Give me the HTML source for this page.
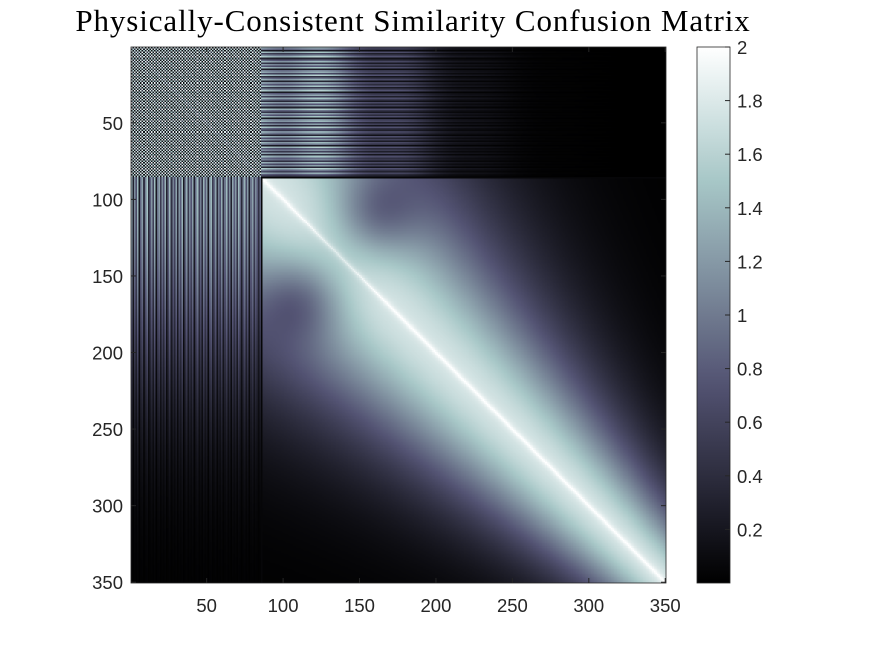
<!DOCTYPE html>
<html><head><meta charset="utf-8"><style>
body{margin:0;background:#fff;width:875px;height:656px;overflow:hidden;position:relative;font-family:"Liberation Sans",sans-serif}
</style></head><body>
<div style="position:absolute;left:13px;width:800px;top:3px;text-align:center;font-family:'Liberation Serif',serif;font-size:31px;letter-spacing:0.9px;color:#000">Physically-Consistent Similarity Confusion Matrix</div>
<canvas id="hm" width="350" height="350" style="position:absolute;left:131px;top:47px;width:535px;height:536px;image-rendering:pixelated"></canvas>
<svg id="ov" width="875" height="656" style="position:absolute;left:0;top:0"></svg>
<script>
// ---- data ----
const colAmp=[1.8,0.4,1.5,0.9,1.9,0.3,1.2,1.7,0.6,1.4,2.0,0.5,1.1,1.6,0.8,1.9,0.3,1.3,1.7,0.7,1.5,1.0,1.8,0.4,1.2,1.9,0.6,1.4,0.9,1.7,0.5,1.6,1.1,1.9,0.3,1.3,1.8,0.7,1.5,1.0,1.7,0.4,1.2,1.9,0.8,1.4,0.6,1.8,1.1,1.6,0.3,1.5,1.9,0.7,1.2,1.7,0.5,1.4,1.0,1.8,0.6,1.3,1.9,0.8,1.5,0.4,1.7,1.1,1.6,0.7,1.9,1.2,0.5,1.4,1.8,0.9,1.6,0.4,1.3,1.7,0.8,1.5,1.1,0.6,1.2];
const rowAmp=[1.6,1.2,0.3,1.8,0.7,1.4,1.9,0.4,1.1,1.7,0.6,1.5,0.9,1.8,0.3,1.3,1.6,0.8,1.9,0.5,1.2,1.7,0.4,1.5,1.0,1.8,0.6,1.4,1.9,0.3,1.1,1.6,0.7,1.8,1.3,0.5,1.7,0.9,1.5,0.4,1.9,1.2,0.6,1.6,1.0,1.8,0.3,1.4,1.7,0.8,1.5,0.5,1.9,1.1,0.7,1.6,1.3,0.4,1.8,0.9,1.5,0.6,1.7,1.2,0.3,1.9,1.0,1.4,0.7,1.6,0.5,1.8,1.1,1.3,0.6,1.7,0.9,1.5,0.4,1.9,1.2,0.8,1.6,1.0,0.5];
const blobs=[[110,160,0.55],[165,112,0.55]]; // [row, col, depth]
const xTicks=[50,100,150,200,250,300,350];
const yTicks=[50,100,150,200,250,300,350];
const cTicks=[0.2,0.4,0.6,0.8,1,1.2,1.4,1.6,1.8,2];
const N=350, B=85, CMIN=0, CMAX=2;
// ---- axes ----
const X0=131,X1=666,Y0=47,Y1=583;
const xs=v=>X0+(v-0.5)*(X1-X0)/N, ys=v=>Y0+(v-0.5)*(Y1-Y0)/N;
const cy=v=>583-(v-CMIN)/(CMAX-CMIN)*(583-47);
function bone(t){t=Math.max(0,Math.min(1,t));
 const hr=Math.min(1,t/0.375),hg=Math.max(0,Math.min(1,(t-0.375)/0.375)),hb=Math.max(0,Math.min(1,(t-0.75)/0.25));
 return [(7*t+hb)/8*255,(7*t+hg)/8*255,(7*t+hr)/8*255];}
function val(i,j){
 if(i<=B&&j<=B){const a=(rowAmp[i-1]+colAmp[j-1])/4;return ((i+j)%2==0)?1.3+0.7*a:0.05+0.4*a*(Math.abs(i-j)%7<2?1:0.3);}
 if(i<=B){const f=Math.exp(-Math.pow((j-B)/95,2));return Math.min(2,rowAmp[i-1]*f*(0.85+0.15*Math.sin(j/9)));}
 if(j<=B){const f=Math.exp(-Math.pow((i-B)/130,2));return Math.min(2,colAmp[j-1]*0.75*f);}
 if(i==B+1||j==B+1)return 0.05;
 const d=Math.abs(i-j),w=40+0.3*(N-Math.min(i,j));
 let v=1.75*Math.exp(-(d/w)*(d/w))+0.3*Math.exp(-d/2.5);
 for(const b of blobs){v-=b[2]*Math.exp(-((i-b[0])**2+(j-b[1])**2)/(2*20*20));}
 return Math.max(0,Math.min(2,v));}
const cv=document.getElementById('hm'),ctx=cv.getContext('2d'),img=ctx.createImageData(N,N);
for(let i=1;i<=N;i++)for(let j=1;j<=N;j++){const c=bone((val(i,j)-CMIN)/(CMAX-CMIN)),k=((i-1)*N+(j-1))*4;
 img.data[k]=c[0];img.data[k+1]=c[1];img.data[k+2]=c[2];img.data[k+3]=255;}
ctx.putImageData(img,0,0);
const ov=document.getElementById('ov'),NS='http://www.w3.org/2000/svg';
function el(tag,at,txt){const e=document.createElementNS(NS,tag);for(const k in at)e.setAttribute(k,at[k]);if(txt!==undefined)e.textContent=txt;ov.appendChild(e);return e;}
const defs=el('defs',{});const lg=document.createElementNS(NS,'linearGradient');lg.setAttribute('id','cg');lg.setAttribute('x1','0');lg.setAttribute('y1','1');lg.setAttribute('x2','0');lg.setAttribute('y2','0');defs.appendChild(lg);
for(let s=0;s<=20;s++){const c=bone(s/20),st=document.createElementNS(NS,'stop');st.setAttribute('offset',s/20);st.setAttribute('stop-color','rgb('+c.map(Math.round).join(',')+')');lg.appendChild(st);}
const cb=el('rect',{x:697,y:47,width:33,height:536,fill:'url(#cg)',stroke:'#262626','stroke-width':0.8});


const ax=el('rect',{x:X0,y:Y0,width:X1-X0,height:Y1-Y0,fill:'none',stroke:'#262626','stroke-width':0.8});


const FS=18.5;
for(const v of xTicks){const x=xs(v);
 el('line',{x1:x,x2:x,y1:Y1,y2:Y1-5,stroke:'#262626'});el('line',{x1:x,x2:x,y1:Y0,y2:Y0+5,stroke:'#262626'});
 const t=el('text',{x:x,y:Y1+29,'text-anchor':'middle','font-size':FS,fill:'#262626','font-family':'Liberation Sans'},v);
 
 }
for(const v of yTicks){const y=ys(v);
 el('line',{x1:X0,x2:X0+5,y1:y,y2:y,stroke:'#262626'});el('line',{x1:X1,x2:X1-5,y1:y,y2:y,stroke:'#262626'});
 const t=el('text',{x:X0-8,y:y+7,'text-anchor':'end','font-size':FS,fill:'#262626','font-family':'Liberation Sans'},v);
 
 }
for(const v of cTicks){const y=cy(v);
 el('line',{x1:730,x2:725,y1:y,y2:y,stroke:'#262626'});
 const t=el('text',{x:737,y:y+7,'font-size':FS,fill:'#262626','font-family':'Liberation Sans'},v);
 
 }
</script>
</body></html>
